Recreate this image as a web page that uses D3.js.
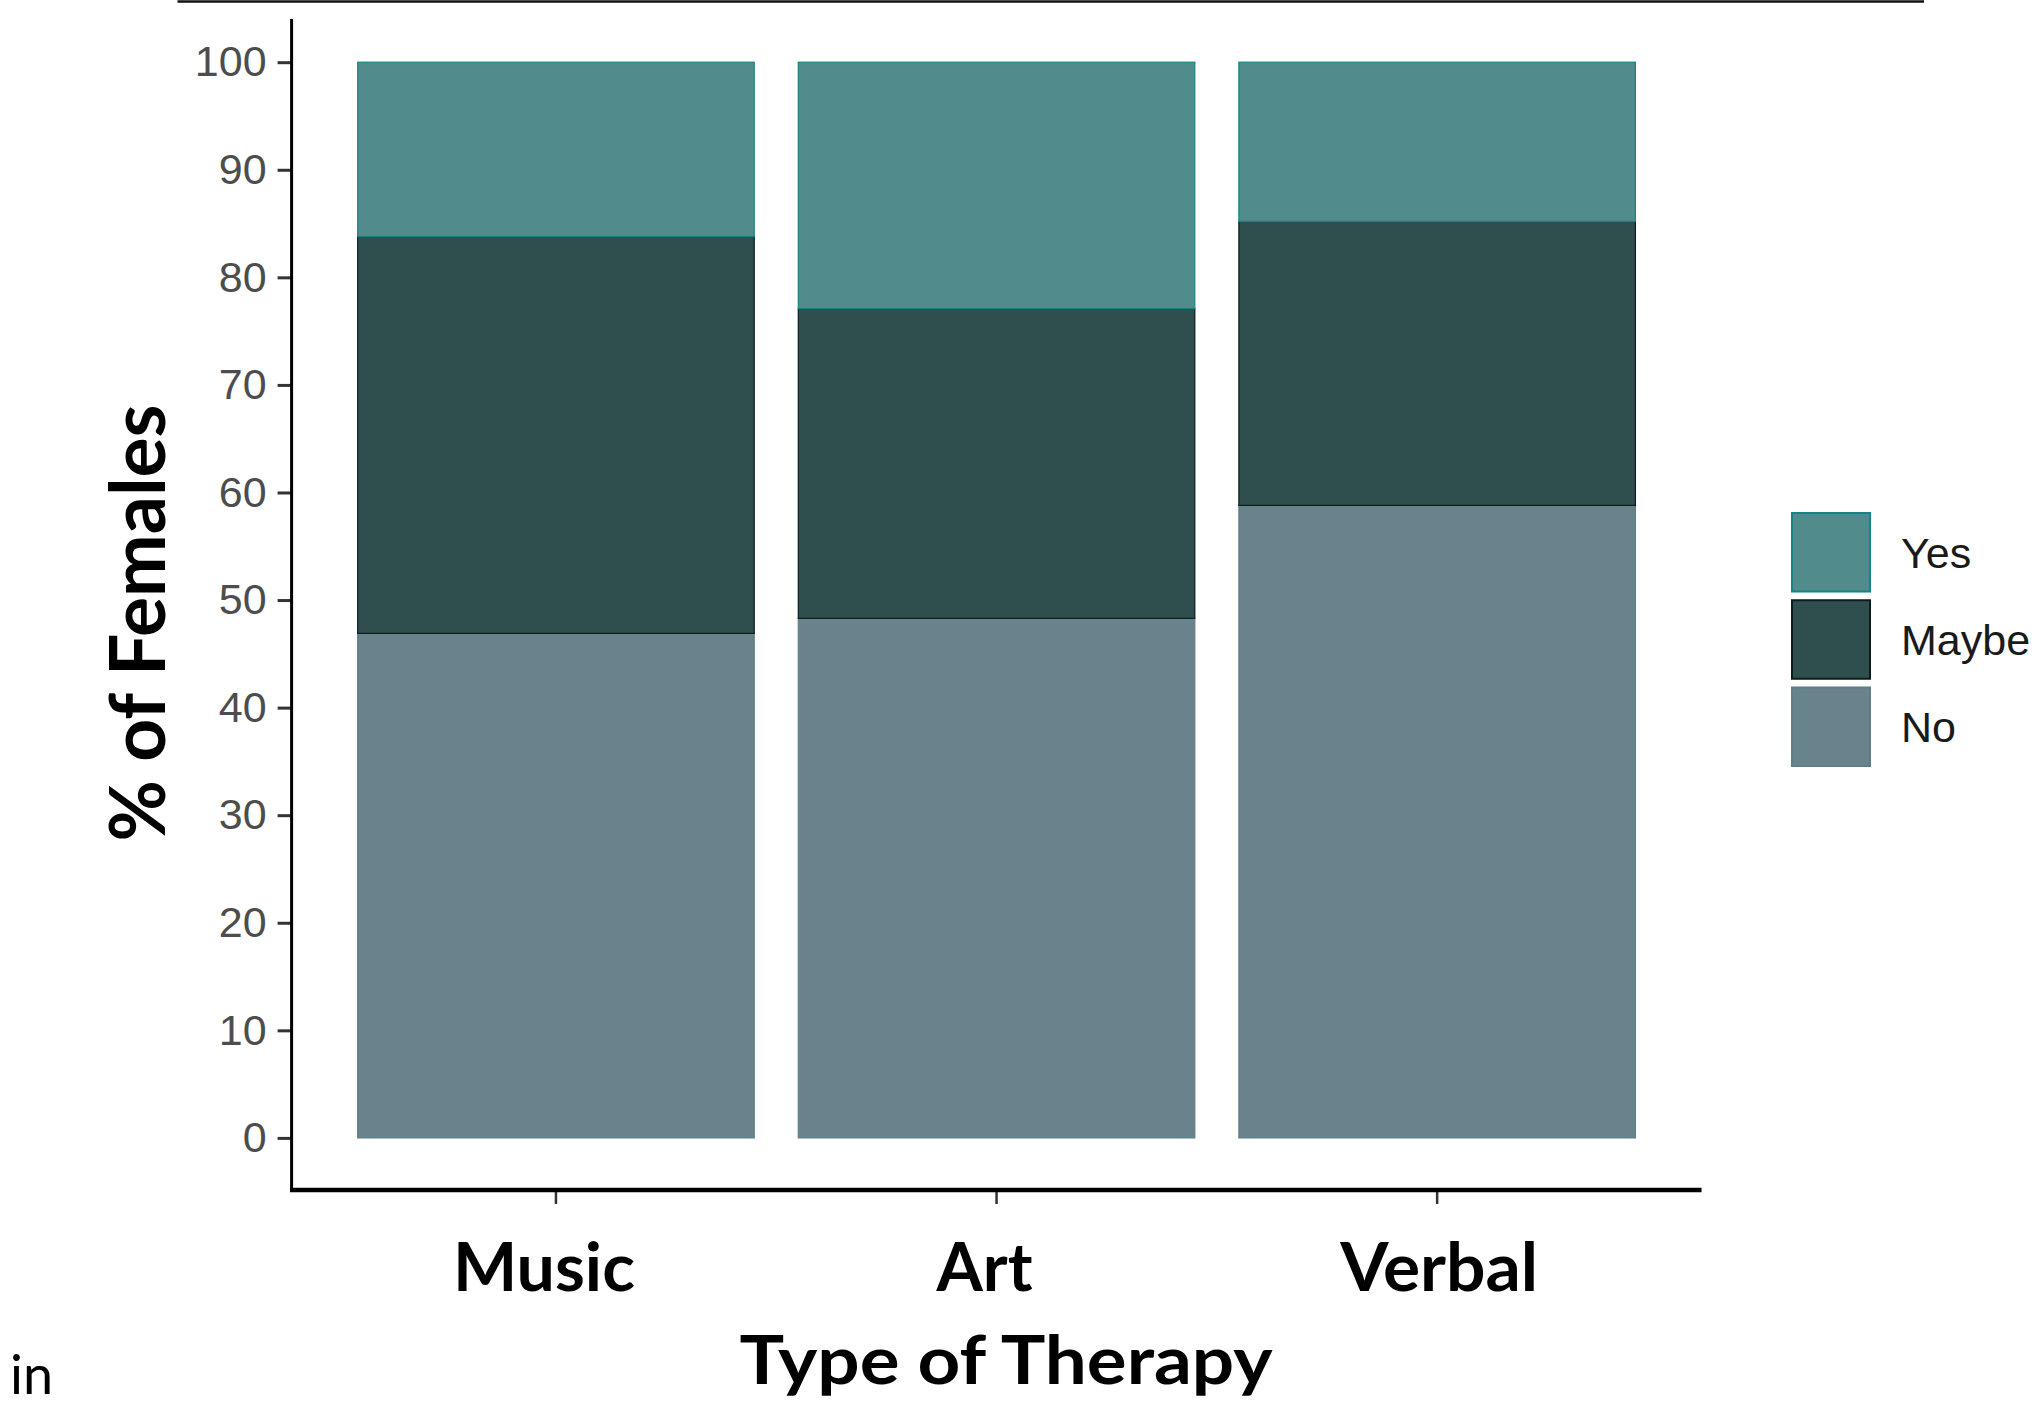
<!DOCTYPE html>
<html>
<head>
<meta charset="utf-8">
<script src="https://cdn.jsdelivr.net/npm/d3@7"></script>
<style>
  html, body { margin: 0; padding: 0; background: #fff; }
  svg { display: block; }
</style>
</head>
<body>
<svg id="chart" width="2032" height="1407"></svg>
<script>
// ---- data ----
const categories = ["Music", "Art", "Verbal"];
const noValues    = [46.9, 48.3, 58.8];
const maybeValues = [36.9, 28.8, 26.4];
const yesValues   = [16.2, 22.9, 14.8];
const seriesKeys  = ["No", "Maybe", "Yes"];
const legendOrder = ["Yes", "Maybe", "No"];
const yTicks = [0, 10, 20, 30, 40, 50, 60, 70, 80, 90, 100];

const fills   = { Yes: "#528B8B", Maybe: "#2F4F4F", No: "#68838B" };
const strokes = { Yes: "#138585", Maybe: "#0b1c1c", No: "#5d7f88" };

const rows = categories.map((c, i) => ({ cat: c, No: noValues[i], Maybe: maybeValues[i], Yes: yesValues[i] }));

const svg = d3.select("#chart");

const x = d3.scaleBand().domain(categories).range([291.6, 1701.5]).paddingInner(0.1).paddingOuter(0.15);
const y = d3.scaleLinear().domain([0, 100]).range([1137.9, 62.2]);

// top border line from slide
svg.append("line").attr("x1", 177.5).attr("x2", 1924).attr("y1", 1.5).attr("y2", 1.5)
  .attr("stroke", "#111").attr("stroke-width", 2.5);

// stacked bars
const stacked = d3.stack().keys(seriesKeys)(rows);
svg.append("g").selectAll("g").data(stacked).join("g")
  .attr("fill", d => fills[d.key])
  .attr("stroke", d => strokes[d.key])
  .attr("stroke-width", 1.2)
  .selectAll("rect").data(d => d).join("rect")
  .attr("x", d => x(d.data.cat))
  .attr("width", x.bandwidth())
  .attr("y", d => y(d[1]))
  .attr("height", d => y(d[0]) - y(d[1]));

// y axis
const yAxis = d3.axisLeft(y).tickValues(yTicks).tickSize(14).tickPadding(11);
const gy = svg.append("g").attr("transform", "translate(291.6,0)").call(yAxis);
gy.select(".domain").remove();
gy.selectAll(".tick line").attr("stroke", "#333").attr("stroke-width", 3);
gy.selectAll(".tick text").attr("font-family", "'Liberation Sans', Arial, sans-serif")
  .attr("font-size", 43).attr("fill", "#4d4d4d");
svg.append("line").attr("x1", 291.6).attr("x2", 291.6).attr("y1", 19).attr("y2", 1192)
  .attr("stroke", "#000").attr("stroke-width", 3);

// x axis
const xAxis = d3.axisBottom(x).tickSize(14).tickFormat("");
const gx = svg.append("g").attr("transform", "translate(0,1190)").call(xAxis);
gx.select(".domain").remove();
gx.selectAll(".tick line").attr("stroke", "#333").attr("stroke-width", 2.5);
svg.append("line").attr("x1", 290).attr("x2", 1701.5).attr("y1", 1190).attr("y2", 1190)
  .attr("stroke", "#000").attr("stroke-width", 4.5);

// category labels (slide text, slightly offset from the tick centres)
const catShift = { Music: -12, Art: -12, Verbal: 2 };
const catWidths = { Music: 182, Art: 96, Verbal: 198 };
svg.append("g").selectAll("text").data(categories).join("text")
  .attr("x", d => x(d) + x.bandwidth() / 2 + catShift[d])
  .attr("y", 1291)
  .attr("text-anchor", "middle")
  .attr("font-family", "Lato, 'Open Sans', sans-serif")
  .attr("font-weight", "bold")
  .attr("font-size", 67)
  .attr("fill", "#000")
  .attr("textLength", d => catWidths[d])
  .attr("lengthAdjust", "spacingAndGlyphs")
  .text(d => d);

// x title
svg.append("text")
  .attr("x", 1006).attr("y", 1384)
  .attr("text-anchor", "middle")
  .attr("font-family", "Lato, 'Open Sans', sans-serif")
  .attr("font-weight", "bold").attr("font-size", 67)
  .attr("textLength", 533).attr("lengthAdjust", "spacingAndGlyphs")
  .text("Type of Therapy");

// y title
svg.append("text")
  .attr("transform", "translate(165,623) rotate(-90)")
  .attr("text-anchor", "middle")
  .attr("font-family", "Lato, 'Open Sans', sans-serif")
  .attr("font-weight", "bold").attr("font-size", 76)
  .attr("textLength", 437).attr("lengthAdjust", "spacingAndGlyphs")
  .text("% of Females");

// legend
const legY = d3.scaleBand().domain(legendOrder).range([513, 766]).paddingInner(0.1);
const leg = svg.append("g").selectAll("g").data(legendOrder).join("g")
  .attr("transform", d => `translate(1792,${legY(d)})`);
leg.append("rect")
  .attr("width", 78).attr("height", legY.bandwidth())
  .attr("fill", d => fills[d]).attr("stroke", d => strokes[d]).attr("stroke-width", 2);
leg.append("text")
  .attr("x", 109).attr("y", legY.bandwidth() / 2)
  .attr("dy", "0.36em")
  .attr("font-family", "'Liberation Sans', Arial, sans-serif")
  .attr("font-size", 43).attr("fill", "#1a1a1a")
  .text(d => d);

// stray slide text at bottom left
svg.append("text").attr("x", 10).attr("y", 1394)
  .attr("font-family", "Lato, 'Open Sans', sans-serif")
  .attr("font-size", 54).attr("fill", "#000").text("in");
</script>
</body>
</html>
